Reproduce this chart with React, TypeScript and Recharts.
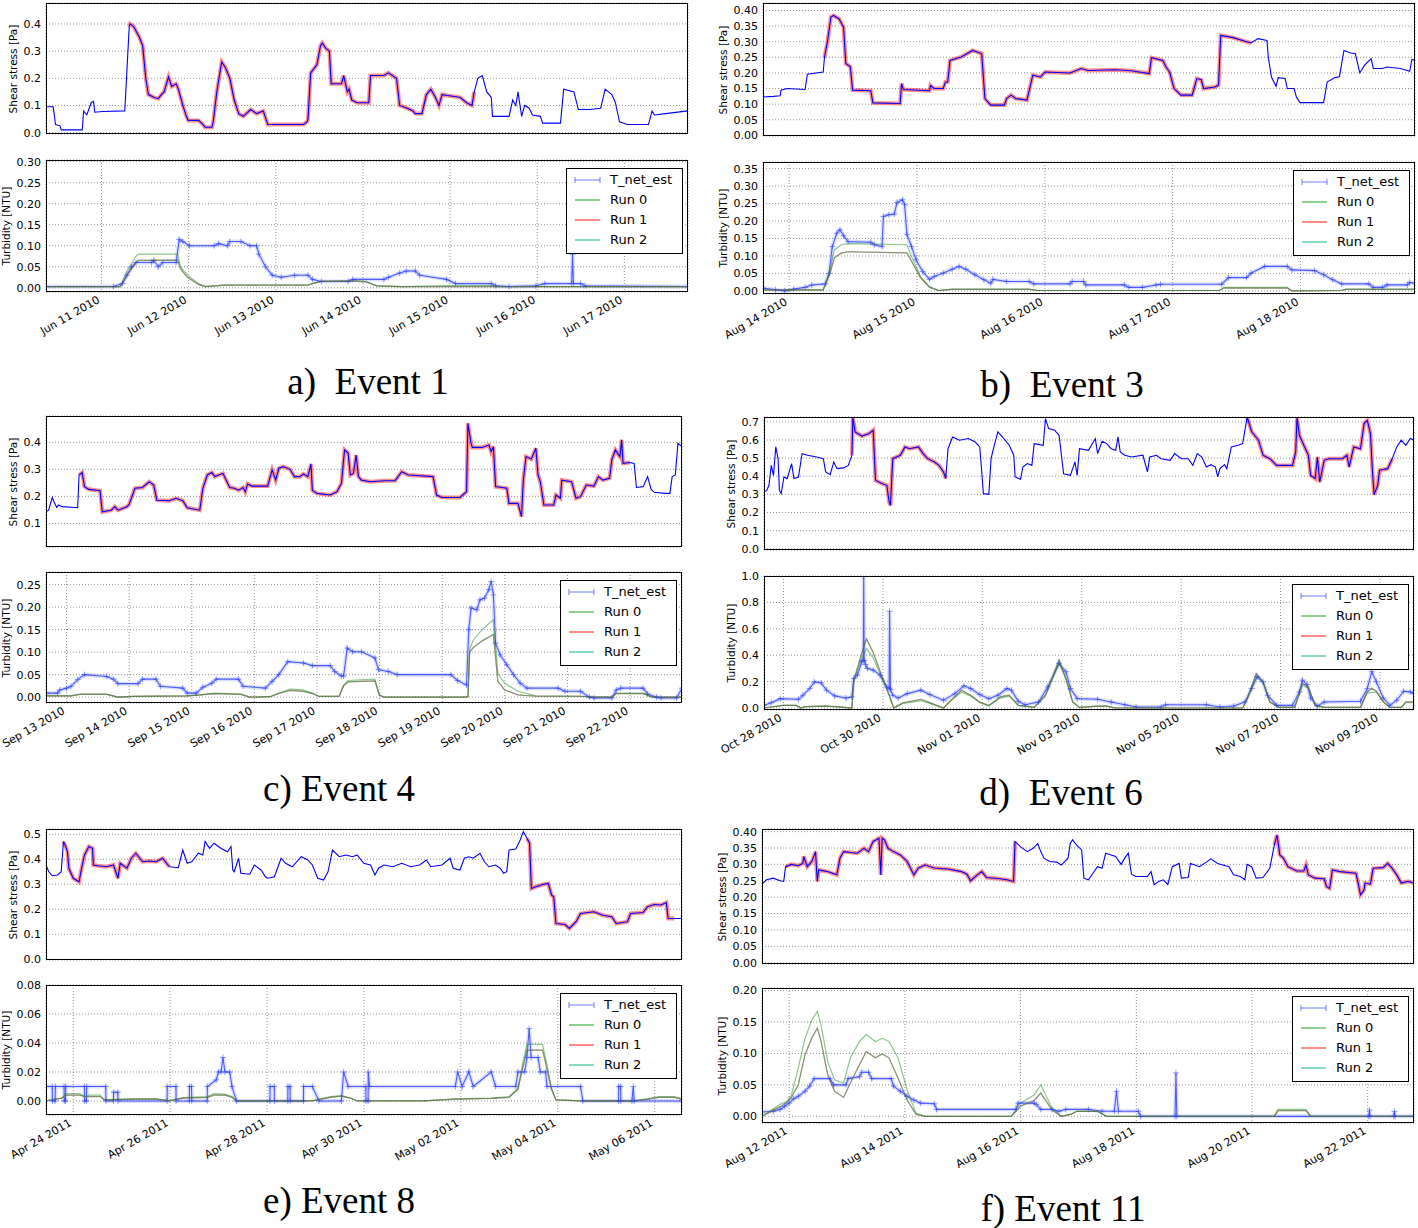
import React from "react";
import { LineChart, Line, XAxis, YAxis, CartesianGrid } from "recharts";

type Pt = [number, number];
type Span = [number, number];

// x values are days from the first labelled date of each event

// ---- Event 1 ----
const ticksA = [0, 1, 2, 3, 4, 5, 6];
const labelsA = ["Jun 11 2010", "Jun 12 2010", "Jun 13 2010", "Jun 14 2010", "Jun 15 2010", "Jun 16 2010", "Jun 17 2010"];
const shearA: Pt[] = [
  [-0.636, 0.095], [-0.554, 0.095], [-0.528, 0.03], [-0.477, 0.025], [-0.462, 0.01], [-0.221, 0.01], [-0.205, 0.08], [-0.169, 0.065],
  [-0.118, 0.11], [-0.092, 0.115], [-0.077, 0.075], [0.01, 0.078], [0.267, 0.08], [0.318, 0.39], [0.328, 0.4], [0.369, 0.39],
  [0.395, 0.375], [0.436, 0.35], [0.472, 0.32], [0.508, 0.2], [0.538, 0.14], [0.6, 0.13], [0.651, 0.125], [0.687, 0.14],
  [0.718, 0.15], [0.769, 0.205], [0.805, 0.17], [0.856, 0.18], [0.882, 0.16], [0.933, 0.1], [0.974, 0.06], [0.995, 0.045],
  [1.113, 0.045], [1.149, 0.035], [1.19, 0.02], [1.267, 0.02], [1.282, 0.04], [1.323, 0.15], [1.379, 0.26], [1.421, 0.24],
  [1.472, 0.2], [1.523, 0.12], [1.574, 0.07], [1.626, 0.06], [1.713, 0.085], [1.779, 0.07], [1.856, 0.08], [1.908, 0.03],
  [2.318, 0.03], [2.359, 0.04], [2.369, 0.05], [2.4, 0.22], [2.472, 0.25], [2.513, 0.32], [2.533, 0.33], [2.574, 0.31],
  [2.615, 0.3], [2.636, 0.18], [2.754, 0.18], [2.779, 0.21], [2.821, 0.15], [2.841, 0.16], [2.872, 0.12], [2.933, 0.11],
  [3.067, 0.11], [3.087, 0.21], [3.241, 0.21], [3.292, 0.22], [3.385, 0.2], [3.421, 0.1], [3.508, 0.09], [3.574, 0.08],
  [3.6, 0.07], [3.677, 0.07], [3.728, 0.14], [3.779, 0.16], [3.831, 0.13], [3.872, 0.1], [3.908, 0.14], [4.01, 0.135],
  [4.113, 0.13], [4.19, 0.11], [4.251, 0.1], [4.277, 0.15], [4.318, 0.2], [4.369, 0.21], [4.421, 0.15], [4.472, 0.13],
  [4.487, 0.06], [4.677, 0.06], [4.718, 0.12], [4.754, 0.1], [4.779, 0.15], [4.821, 0.06], [4.856, 0.1], [4.908, 0.09],
  [4.944, 0.065], [5.036, 0.06], [5.062, 0.035], [5.267, 0.035], [5.303, 0.16], [5.421, 0.15], [5.472, 0.085], [5.6, 0.085],
  [5.728, 0.09], [5.779, 0.16], [5.856, 0.14], [5.897, 0.11], [5.944, 0.04], [6.036, 0.03], [6.277, 0.03], [6.318, 0.08],
  [6.344, 0.065], [6.472, 0.07], [6.728, 0.08],
];
const runSpanA: Span[] = [[0.31, 4.28]];
const tNetA: Pt[] = [
  [-0.636, 0.003], [0.138, 0.003], [0.241, 0.01], [0.292, 0.03], [0.344, 0.05], [0.395, 0.06], [0.574, 0.06], [0.6, 0.065],
  [0.651, 0.05], [0.703, 0.06], [0.856, 0.06], [0.892, 0.115], [0.933, 0.11], [1.01, 0.1], [1.292, 0.1], [1.344, 0.105],
  [1.446, 0.1], [1.472, 0.11], [1.6, 0.11], [1.703, 0.1], [1.779, 0.1], [1.805, 0.08], [1.882, 0.05], [1.959, 0.03],
  [2.062, 0.025], [2.215, 0.03], [2.369, 0.03], [2.421, 0.02], [2.523, 0.015], [2.831, 0.015], [2.882, 0.02], [3.241, 0.02],
  [3.292, 0.025], [3.421, 0.035], [3.497, 0.04], [3.6, 0.04], [3.651, 0.03], [3.959, 0.02], [4.062, 0.01], [4.472, 0.01],
  [4.523, 0.005], [4.677, 0.003], [4.985, 0.005], [5.087, 0.01], [5.395, 0.01], [5.405, 0.08], [5.415, 0.01], [5.497, 0.01],
  [5.549, 0.005], [6.728, 0.003],
];
const run0A: Pt[] = [
  [-0.636, 0.003], [0.215, 0.003], [0.292, 0.04], [0.395, 0.075], [0.421, 0.08], [0.872, 0.08], [0.908, 0.05], [0.985, 0.03],
  [1.113, 0.01], [1.19, 0.003], [1.344, 0.005], [1.395, 0.007], [2.369, 0.007], [2.421, 0.01], [2.523, 0.015], [2.882, 0.018],
  [3.036, 0.015], [3.164, 0.005], [3.446, 0.003], [3.959, 0.005], [4.472, 0.005], [4.574, 0.003], [6.728, 0.003],
];
const run12A: Pt[] = [
  [-0.636, 0.003], [0.215, 0.003], [0.292, 0.03], [0.395, 0.06], [0.421, 0.065], [0.872, 0.066], [0.908, 0.045], [0.985, 0.025],
  [1.113, 0.008], [1.19, 0.003], [1.344, 0.005], [1.395, 0.006], [2.369, 0.006], [2.421, 0.01], [2.523, 0.016], [2.882, 0.016],
  [3.036, 0.014], [3.164, 0.004], [3.446, 0.003], [4.574, 0.003], [6.728, 0.003],
];

// ---- Event 3 ----
const ticksB = [0, 1, 2, 3, 4];
const labelsB = ["Aug 14 2010", "Aug 15 2010", "Aug 16 2010", "Aug 17 2010", "Aug 18 2010"];
const shearB: Pt[] = [
  [-0.205, 0.123], [-0.124, 0.125], [-0.071, 0.127], [-0.064, 0.145], [-0.018, 0.15], [0.124, 0.147], [0.142, 0.196], [0.266, 0.203],
  [0.276, 0.25], [0.301, 0.304], [0.326, 0.379], [0.347, 0.384], [0.39, 0.373], [0.425, 0.347], [0.443, 0.23], [0.478, 0.22],
  [0.496, 0.145], [0.638, 0.143], [0.655, 0.104], [0.868, 0.102], [0.879, 0.166], [0.893, 0.147], [1.098, 0.143], [1.105, 0.16],
  [1.134, 0.15], [1.205, 0.15], [1.222, 0.171], [1.24, 0.171], [1.258, 0.24], [1.346, 0.251], [1.435, 0.272], [1.506, 0.262],
  [1.531, 0.118], [1.577, 0.097], [1.683, 0.097], [1.701, 0.118], [1.736, 0.129], [1.771, 0.118], [1.86, 0.113], [1.878, 0.145],
  [1.906, 0.193], [1.966, 0.187], [2.002, 0.203], [2.197, 0.2], [2.285, 0.214], [2.338, 0.208], [2.551, 0.21], [2.675, 0.207],
  [2.817, 0.198], [2.834, 0.249], [2.923, 0.24], [2.948, 0.219], [2.976, 0.203], [3.011, 0.15], [3.065, 0.129], [3.153, 0.129],
  [3.189, 0.182], [3.224, 0.178], [3.242, 0.15], [3.33, 0.155], [3.359, 0.161], [3.376, 0.32], [3.472, 0.313], [3.561, 0.302],
  [3.614, 0.296], [3.667, 0.31], [3.738, 0.304], [3.748, 0.251], [3.773, 0.187], [3.809, 0.157], [3.826, 0.185], [3.88, 0.182],
  [3.897, 0.15], [3.95, 0.15], [3.968, 0.123], [3.996, 0.105], [4.181, 0.105], [4.209, 0.171], [4.269, 0.185], [4.305, 0.188],
  [4.34, 0.272], [4.393, 0.264], [4.429, 0.262], [4.464, 0.2], [4.5, 0.224], [4.553, 0.246], [4.57, 0.214], [4.641, 0.214],
  [4.677, 0.219], [4.783, 0.214], [4.854, 0.205], [4.872, 0.243], [4.896, 0.24],
];
const runSpanB: Span[] = [[0.27, 3.63]];
const tNetB: Pt[] = [
  [-0.205, 0.008], [-0.106, 0.003], [-0.035, 0.0], [0.035, 0.005], [0.124, 0.01], [0.177, 0.017], [0.283, 0.02], [0.312, 0.05],
  [0.337, 0.127], [0.372, 0.165], [0.397, 0.175], [0.425, 0.158], [0.461, 0.141], [0.638, 0.139], [0.666, 0.132], [0.726, 0.127],
  [0.737, 0.213], [0.779, 0.218], [0.822, 0.22], [0.843, 0.253], [0.886, 0.261], [0.903, 0.247], [0.921, 0.161], [0.957, 0.127],
  [0.992, 0.089], [1.045, 0.055], [1.098, 0.033], [1.134, 0.041], [1.205, 0.051], [1.275, 0.062], [1.329, 0.07], [1.382, 0.062],
  [1.453, 0.046], [1.523, 0.032], [1.577, 0.022], [1.594, 0.033], [1.701, 0.027], [1.878, 0.027], [1.913, 0.02], [2.197, 0.02],
  [2.214, 0.027], [2.303, 0.027], [2.321, 0.017], [2.622, 0.017], [2.657, 0.01], [2.764, 0.01], [2.87, 0.017], [2.905, 0.019],
  [3.384, 0.019], [3.437, 0.038], [3.578, 0.038], [3.614, 0.051], [3.72, 0.07], [3.897, 0.07], [3.933, 0.06], [4.11, 0.058],
  [4.181, 0.046], [4.252, 0.032], [4.322, 0.02], [4.535, 0.02], [4.57, 0.01], [4.641, 0.01], [4.677, 0.017], [4.836, 0.017],
  [4.854, 0.024], [4.896, 0.022],
];
const run0B: Pt[] = [
  [-0.205, 0.003], [0.266, 0.003], [0.319, 0.06], [0.354, 0.118], [0.407, 0.132], [0.461, 0.135], [0.921, 0.132], [0.957, 0.098],
  [1.027, 0.041], [1.098, 0.012], [1.169, 0.001], [1.275, 0.005], [1.878, 0.005], [1.949, 0.001], [3.366, 0.001], [3.401, 0.01],
  [3.897, 0.01], [3.933, 0.0], [4.322, 0.001], [4.358, 0.005], [4.896, 0.005],
];
const run12B: Pt[] = [
  [-0.205, 0.003], [0.266, 0.003], [0.319, 0.05], [0.354, 0.095], [0.407, 0.108], [0.461, 0.112], [0.921, 0.109], [0.957, 0.085],
  [1.027, 0.038], [1.098, 0.01], [1.169, 0.001], [1.275, 0.004], [1.878, 0.004], [1.949, 0.001], [3.366, 0.001], [3.401, 0.008],
  [3.897, 0.008], [3.933, 0.0], [4.322, 0.001], [4.358, 0.004], [4.896, 0.004],
];

// ---- Event 4 ----
const ticksC = [0, 1, 2, 3, 4, 5, 6, 7, 8, 9];
const labelsC = ["Sep 13 2010", "Sep 14 2010", "Sep 15 2010", "Sep 16 2010", "Sep 17 2010", "Sep 18 2010", "Sep 19 2010", "Sep 20 2010", "Sep 21 2010", "Sep 22 2010"];
const shearC: Pt[] = [
  [-0.328, 0.143], [-0.286, 0.149], [-0.228, 0.196], [-0.2, 0.18], [-0.157, 0.159], [-0.128, 0.168], [-0.071, 0.162], [0.178, 0.158],
  [0.2, 0.279], [0.25, 0.288], [0.286, 0.236], [0.357, 0.226], [0.535, 0.221], [0.571, 0.143], [0.714, 0.149], [0.771, 0.162],
  [0.821, 0.149], [0.964, 0.162], [0.999, 0.17], [1.092, 0.23], [1.213, 0.233], [1.32, 0.254], [1.392, 0.242], [1.442, 0.186],
  [1.642, 0.184], [1.749, 0.193], [1.856, 0.184], [1.927, 0.158], [2.127, 0.149], [2.177, 0.23], [2.248, 0.279], [2.32, 0.288],
  [2.37, 0.273], [2.427, 0.279], [2.498, 0.285], [2.605, 0.233], [2.677, 0.23], [2.748, 0.223], [2.819, 0.233], [2.855, 0.217],
  [2.891, 0.246], [2.962, 0.238], [3.212, 0.238], [3.283, 0.298], [3.34, 0.26], [3.39, 0.304], [3.462, 0.31], [3.569, 0.3],
  [3.64, 0.273], [3.726, 0.273], [3.783, 0.283], [3.854, 0.273], [3.904, 0.32], [3.926, 0.223], [3.997, 0.211], [4.211, 0.205],
  [4.318, 0.217], [4.39, 0.248], [4.44, 0.372], [4.497, 0.36], [4.532, 0.279], [4.582, 0.285], [4.625, 0.353], [4.661, 0.273],
  [4.711, 0.26], [4.854, 0.254], [5.068, 0.258], [5.246, 0.258], [5.353, 0.291], [5.46, 0.279], [5.853, 0.273], [5.91, 0.205],
  [5.996, 0.196], [6.281, 0.196], [6.388, 0.217], [6.41, 0.47], [6.46, 0.396], [6.481, 0.381], [6.638, 0.381], [6.745, 0.39],
  [6.781, 0.365], [6.817, 0.384], [6.852, 0.236], [7.031, 0.23], [7.066, 0.174], [7.209, 0.174], [7.266, 0.125], [7.295, 0.26],
  [7.338, 0.347], [7.423, 0.338], [7.495, 0.378], [7.53, 0.279], [7.566, 0.254], [7.623, 0.168], [7.78, 0.168], [7.816, 0.205],
  [7.887, 0.193], [7.909, 0.26], [8.066, 0.254], [8.137, 0.193], [8.208, 0.199], [8.301, 0.242], [8.423, 0.238], [8.494, 0.273],
  [8.565, 0.26], [8.672, 0.267], [8.708, 0.335], [8.765, 0.372], [8.837, 0.347], [8.865, 0.409], [8.887, 0.322], [8.994, 0.325],
  [9.065, 0.322], [9.101, 0.233], [9.208, 0.236], [9.28, 0.273], [9.336, 0.226], [9.386, 0.215], [9.565, 0.211], [9.636, 0.211],
  [9.672, 0.273], [9.722, 0.279], [9.764, 0.396], [9.829, 0.384],
];
const runSpanC: Span[] = [[0.19, 9.05]];
const tNetC: Pt[] = [
  [-0.328, 0.009], [-0.143, 0.009], [-0.107, 0.016], [0, 0.02], [0.071, 0.024], [0.178, 0.039], [0.286, 0.05], [0.642, 0.046],
  [0.749, 0.04], [0.821, 0.03], [1.142, 0.03], [1.213, 0.04], [1.428, 0.04], [1.499, 0.024], [1.856, 0.02], [1.927, 0.009],
  [2.07, 0.009], [2.177, 0.022], [2.32, 0.031], [2.391, 0.04], [2.748, 0.04], [2.819, 0.024], [3.176, 0.02], [3.283, 0.035],
  [3.39, 0.05], [3.533, 0.079], [3.783, 0.076], [3.926, 0.07], [4.211, 0.07], [4.283, 0.057], [4.39, 0.047], [4.425, 0.047],
  [4.483, 0.109], [4.568, 0.101], [4.711, 0.101], [4.925, 0.087], [4.982, 0.061], [5.139, 0.057], [5.282, 0.05], [6.138, 0.05],
  [6.245, 0.037], [6.388, 0.027], [6.424, 0.15], [6.46, 0.198], [6.552, 0.194], [6.602, 0.216], [6.674, 0.22], [6.745, 0.239],
  [6.781, 0.257], [6.817, 0.227], [6.852, 0.12], [6.924, 0.094], [7.031, 0.072], [7.138, 0.05], [7.245, 0.031], [7.352, 0.02],
  [7.852, 0.02], [7.959, 0.013], [8.208, 0.013], [8.351, 0.0], [8.423, -0.002], [8.708, -0.002], [8.779, 0.016], [8.851, 0.02],
  [9.208, 0.02], [9.279, 0.007], [9.422, 0.0], [9.493, -0.002], [9.743, -0.002], [9.829, 0.02],
];
const run0C: Pt[] = [
  [-0.328, 0.003], [0.071, 0.003], [0.214, 0.007], [0.642, 0.007], [0.821, 0.0], [1.071, 0.0015], [1.927, 0.003], [2.141, 0.005],
  [2.355, 0.009], [2.784, 0.007], [2.926, 0.0], [3.248, 0.001], [3.39, 0.009], [3.569, 0.018], [3.783, 0.016], [3.926, 0.009],
  [4.033, 0.0015], [4.354, 0.002], [4.425, 0.027], [4.497, 0.037], [4.925, 0.04], [4.996, 0.005], [5.068, 0.0], [6.353, 0.0],
  [6.41, 0.001], [6.438, 0.105], [6.495, 0.127], [6.638, 0.15], [6.817, 0.172], [6.888, 0.053], [6.995, 0.031], [7.209, 0.013],
  [7.495, 0.003], [8.208, 0.002], [8.423, 0.0], [8.708, 0.0], [8.779, 0.009], [9.208, 0.009], [9.351, 0.0], [9.829, 0.0],
];
const run12C: Pt[] = [
  [-0.328, 0.003], [0.071, 0.003], [0.214, 0.006], [0.642, 0.006], [0.821, 0.0], [1.071, 0.0015], [1.927, 0.003], [2.141, 0.005],
  [2.355, 0.008], [2.784, 0.006], [2.926, 0.0], [3.248, 0.001], [3.39, 0.008], [3.569, 0.015], [3.783, 0.013], [3.926, 0.008],
  [4.033, 0.0015], [4.354, 0.002], [4.425, 0.025], [4.497, 0.034], [4.925, 0.036], [4.996, 0.004], [5.068, 0.0], [6.353, 0.0],
  [6.41, 0.001], [6.438, 0.1], [6.495, 0.11], [6.638, 0.125], [6.817, 0.139], [6.888, 0.035], [6.995, 0.016], [7.209, 0.005],
  [7.495, 0.002], [8.208, 0.002], [8.423, 0.0], [8.708, 0.0], [8.779, 0.008], [9.208, 0.008], [9.351, 0.0], [9.829, 0.0],
];

// ---- Event 6 ----
const ticksD = [0, 2, 4, 6, 8, 10, 12];
const labelsD = ["Oct 28 2010", "Oct 30 2010", "Nov 01 2010", "Nov 03 2010", "Nov 05 2010", "Nov 07 2010", "Nov 09 2010"];
const shearD: Pt[] = [
  [-0.392, 0.313], [-0.337, 0.322], [-0.292, 0.35], [-0.246, 0.46], [-0.201, 0.405], [-0.155, 0.562], [-0.109, 0.497], [-0.082, 0.322],
  [-0.046, 0.304], [0.009, 0.396], [0.073, 0.387], [0.164, 0.47], [0.21, 0.387], [0.301, 0.396], [0.374, 0.525], [0.483, 0.516],
  [0.666, 0.506], [0.802, 0.497], [0.848, 0.424], [0.939, 0.409], [1.012, 0.479], [1.076, 0.442], [1.213, 0.446], [1.304, 0.46],
  [1.377, 0.516], [1.395, 0.727], [1.441, 0.645], [1.577, 0.622], [1.714, 0.635], [1.805, 0.654], [1.851, 0.378], [1.988, 0.359],
  [2.079, 0.35], [2.125, 0.258], [2.152, 0.239], [2.198, 0.497], [2.352, 0.516], [2.444, 0.562], [2.535, 0.552], [2.717, 0.562],
  [2.808, 0.525], [2.9, 0.497], [3.036, 0.479], [3.128, 0.46], [3.219, 0.424], [3.264, 0.387], [3.31, 0.552], [3.401, 0.617],
  [3.538, 0.599], [3.72, 0.608], [3.857, 0.589], [3.948, 0.562], [3.994, 0.405], [4.021, 0.304], [4.131, 0.3], [4.176, 0.497],
  [4.24, 0.571], [4.313, 0.645], [4.404, 0.617], [4.541, 0.571], [4.632, 0.516], [4.66, 0.396], [4.769, 0.383], [4.815, 0.451],
  [4.906, 0.47], [4.997, 0.46], [5.043, 0.58], [5.225, 0.571], [5.27, 0.718], [5.334, 0.663], [5.453, 0.654], [5.544, 0.626],
  [5.635, 0.414], [5.772, 0.405], [5.863, 0.479], [5.909, 0.405], [5.954, 0.552], [6.136, 0.543], [6.273, 0.608], [6.319, 0.525],
  [6.41, 0.593], [6.501, 0.58], [6.592, 0.552], [6.684, 0.543], [6.729, 0.617], [6.775, 0.534], [6.866, 0.516], [7.003, 0.506],
  [7.231, 0.516], [7.322, 0.424], [7.368, 0.506], [7.504, 0.516], [7.596, 0.497], [7.778, 0.488], [7.869, 0.525], [8.006, 0.497],
  [8.143, 0.497], [8.234, 0.46], [8.325, 0.525], [8.416, 0.506], [8.507, 0.451], [8.599, 0.464], [8.69, 0.451], [8.735, 0.396],
  [8.781, 0.442], [8.872, 0.464], [8.918, 0.442], [9.009, 0.562], [9.146, 0.571], [9.237, 0.58], [9.328, 0.727], [9.419, 0.645],
  [9.556, 0.599], [9.647, 0.516], [9.784, 0.497], [9.921, 0.46], [10.24, 0.46], [10.304, 0.534], [10.331, 0.727], [10.377, 0.626],
  [10.468, 0.571], [10.559, 0.516], [10.605, 0.405], [10.696, 0.387], [10.741, 0.506], [10.787, 0.368], [10.878, 0.488], [10.969, 0.497],
  [11.243, 0.497], [11.334, 0.516], [11.379, 0.451], [11.471, 0.562], [11.608, 0.552], [11.68, 0.691], [11.744, 0.709], [11.808, 0.635],
  [11.845, 0.442], [11.881, 0.298], [11.954, 0.35], [11.991, 0.433], [12.155, 0.442], [12.246, 0.497], [12.337, 0.562], [12.428, 0.599],
  [12.519, 0.571], [12.61, 0.608], [12.684, 0.599],
];
const runSpanD: Span[] = [[1.37, 3.27], [9.28, 12.25]];
const tNetD: Pt[] = [
  [-0.392, 0.02], [-0.246, 0.04], [-0.064, 0.071], [0.301, 0.066], [0.392, 0.097], [0.529, 0.148], [0.62, 0.198], [0.757, 0.191],
  [0.866, 0.135], [1.03, 0.092], [1.258, 0.076], [1.377, 0.084], [1.413, 0.224], [1.486, 0.249], [1.577, 0.351], [1.605, 0.36],
  [1.614, 1.0], [1.623, 0.36], [1.65, 0.33], [1.687, 0.3], [1.805, 0.288], [1.942, 0.249], [2.079, 0.16], [2.125, 0.148],
  [2.134, 0.733], [2.152, 0.14], [2.198, 0.097], [2.307, 0.076], [2.489, 0.109], [2.763, 0.135], [2.945, 0.102], [3.219, 0.059],
  [3.447, 0.109], [3.629, 0.168], [3.766, 0.148], [3.948, 0.102], [4.131, 0.071], [4.313, 0.097], [4.495, 0.148], [4.586, 0.135],
  [4.723, 0.051], [4.86, 0.025], [5.134, 0.046], [5.316, 0.16], [5.544, 0.338], [5.681, 0.275], [5.772, 0.148], [5.909, 0.071],
  [6.319, 0.066], [6.592, 0.046], [6.866, 0.025], [7.094, 0.008], [7.596, 0.008], [7.687, 0.025], [8.507, 0.025], [8.781, 0.008],
  [9.054, 0.015], [9.283, 0.046], [9.419, 0.148], [9.529, 0.237], [9.647, 0.198], [9.738, 0.097], [9.921, 0.02], [10.24, 0.02],
  [10.377, 0.122], [10.44, 0.211], [10.532, 0.178], [10.605, 0.076], [10.741, 0.015], [10.878, 0.046], [11.608, 0.051], [11.744, 0.148],
  [11.835, 0.275], [11.927, 0.198], [12.064, 0.076], [12.2, 0.02], [12.337, 0.059], [12.474, 0.127], [12.61, 0.122], [12.684, 0.109],
];
const run0D: Pt[] = [
  [-0.392, 0.0], [-0.018, 0.02], [0.255, 0.02], [0.347, 0.0], [0.438, 0.01], [0.848, 0.015], [1.122, 0.008], [1.377, 0.0],
  [1.413, 0.198], [1.577, 0.38], [1.669, 0.45], [1.805, 0.38], [1.942, 0.26], [2.125, 0.097], [2.216, 0.0], [2.398, 0.033],
  [2.763, 0.055], [2.945, 0.035], [3.219, 0.0], [3.401, 0.065], [3.583, 0.12], [3.766, 0.09], [3.948, 0.04], [4.131, 0.015],
  [4.358, 0.075], [4.541, 0.09], [4.723, 0.02], [5.043, 0.005], [5.27, 0.09], [5.544, 0.34], [5.681, 0.22], [5.818, 0.046],
  [5.954, 0.005], [6.319, 0.015], [6.501, 0.015], [6.684, 0.0], [9.237, 0.0], [9.328, 0.065], [9.51, 0.24], [9.647, 0.19],
  [9.784, 0.046], [9.966, 0.005], [10.285, 0.005], [10.377, 0.1], [10.44, 0.17], [10.559, 0.15], [10.696, 0.02], [10.878, 0.005],
  [11.608, 0.005], [11.744, 0.115], [11.927, 0.12], [12.064, 0.046], [12.2, 0.005], [12.428, 0.005], [12.519, 0.04], [12.684, 0.04],
];
const run12D: Pt[] = [
  [-0.392, 0.0], [-0.018, 0.02], [0.255, 0.02], [0.347, 0.0], [0.438, 0.01], [0.848, 0.015], [1.122, 0.008], [1.377, 0.0],
  [1.413, 0.21], [1.577, 0.42], [1.669, 0.524], [1.805, 0.42], [1.942, 0.28], [2.125, 0.1], [2.216, 0.0], [2.398, 0.04],
  [2.763, 0.066], [2.945, 0.041], [3.219, 0.0], [3.401, 0.071], [3.583, 0.135], [3.766, 0.097], [3.948, 0.046], [4.131, 0.02],
  [4.358, 0.084], [4.541, 0.097], [4.723, 0.02], [5.043, 0.005], [5.27, 0.097], [5.544, 0.364], [5.681, 0.224], [5.818, 0.046],
  [5.954, 0.005], [6.319, 0.015], [6.501, 0.015], [6.684, 0.0], [9.237, 0.0], [9.328, 0.071], [9.51, 0.262], [9.647, 0.198],
  [9.784, 0.046], [9.966, 0.005], [10.285, 0.005], [10.377, 0.12], [10.44, 0.186], [10.559, 0.16], [10.696, 0.02], [10.878, 0.005],
  [11.608, 0.005], [11.744, 0.122], [11.835, 0.15], [11.927, 0.127], [12.064, 0.046], [12.2, 0.005], [12.428, 0.005], [12.519, 0.046], [12.684, 0.046],
];

// ---- Event 8 ----
const ticksE = [0, 2, 4, 6, 8, 10, 12];
const labelsE = ["Apr 24 2011", "Apr 26 2011", "Apr 28 2011", "Apr 30 2011", "May 02 2011", "May 04 2011", "May 06 2011"];
const shearE: Pt[] = [
  [-0.563, 0.377], [-0.507, 0.35], [-0.434, 0.334], [-0.323, 0.337], [-0.249, 0.35], [-0.203, 0.471], [-0.157, 0.451], [-0.12, 0.43],
  [-0.092, 0.364], [0, 0.324], [0.12, 0.31], [0.157, 0.35], [0.231, 0.417], [0.323, 0.451], [0.397, 0.444], [0.415, 0.377],
  [0.507, 0.374], [0.692, 0.37], [0.83, 0.377], [0.923, 0.324], [0.969, 0.384], [1.107, 0.364], [1.199, 0.404], [1.292, 0.424],
  [1.43, 0.39], [1.568, 0.393], [1.707, 0.39], [1.845, 0.404], [1.983, 0.37], [2.168, 0.366], [2.26, 0.437], [2.352, 0.384],
  [2.445, 0.39], [2.583, 0.424], [2.675, 0.417], [2.721, 0.471], [2.814, 0.444], [2.906, 0.464], [3.044, 0.444], [3.183, 0.43],
  [3.256, 0.451], [3.293, 0.357], [3.321, 0.35], [3.413, 0.404], [3.459, 0.344], [3.644, 0.34], [3.736, 0.377], [3.875, 0.357],
  [3.967, 0.33], [4.013, 0.324], [4.151, 0.33], [4.29, 0.404], [4.382, 0.384], [4.52, 0.37], [4.705, 0.41], [4.843, 0.397],
  [4.935, 0.377], [5.046, 0.324], [5.166, 0.317], [5.258, 0.35], [5.351, 0.437], [5.489, 0.41], [5.627, 0.417], [5.766, 0.41],
  [5.858, 0.417], [5.996, 0.384], [6.135, 0.377], [6.227, 0.337], [6.301, 0.364], [6.412, 0.377], [6.596, 0.37], [6.78, 0.384],
  [6.965, 0.37], [7.149, 0.377], [7.288, 0.397], [7.38, 0.37], [7.611, 0.377], [7.777, 0.404], [7.841, 0.364], [7.98, 0.357],
  [8.072, 0.404], [8.164, 0.41], [8.256, 0.404], [8.395, 0.424], [8.487, 0.39], [8.579, 0.37], [8.718, 0.377], [8.81, 0.364],
  [8.884, 0.344], [8.948, 0.35], [8.995, 0.437], [9.133, 0.441], [9.225, 0.477], [9.29, 0.511], [9.364, 0.484], [9.419, 0.464],
  [9.456, 0.283], [9.548, 0.29], [9.686, 0.299], [9.806, 0.303], [9.871, 0.257], [9.917, 0.25], [9.963, 0.143], [10.148, 0.139],
  [10.24, 0.123], [10.378, 0.15], [10.47, 0.183], [10.747, 0.19], [10.932, 0.176], [11.116, 0.17], [11.208, 0.143], [11.439, 0.15],
  [11.504, 0.183], [11.762, 0.187], [11.854, 0.21], [11.993, 0.219], [12.131, 0.217], [12.242, 0.227], [12.279, 0.163], [12.408, 0.163],
  [12.565, 0.163],
];
const runSpanE: Span[] = [[-0.24, 1.99], [9.3, 12.41]];
const tNetE: Pt[] = [
  [-0.563, 0.01], [-0.434, 0.01], [-0.43, 0], [-0.375, 0], [-0.37, 0.01], [-0.19, 0.01], [-0.185, 0], [-0.16, 0],
  [-0.157, 0.01], [0.231, 0.01], [0.235, 0], [0.27, 0], [0.277, 0.01], [0.67, 0.01], [0.673, 0], [0.83, 0],
  [0.833, 0.006], [0.92, 0.006], [0.923, 0], [1.937, 0], [1.94, 0.01], [2.12, 0.01], [2.122, 0], [2.396, 0],
  [2.399, 0.01], [2.44, 0.01], [2.445, 0], [2.765, 0], [2.768, 0.01], [2.95, 0.0145], [2.998, 0.02], [3.05, 0.02],
  [3.09, 0.03], [3.13, 0.02], [3.229, 0.02], [3.275, 0.01], [3.367, 0], [4.059, 0], [4.062, 0.01], [4.148, 0.01],
  [4.151, 0], [4.428, 0], [4.431, 0.01], [4.474, 0.01], [4.477, 0], [4.751, 0], [4.754, 0.01], [4.935, 0.01],
  [5.07, 0], [5.535, 0], [5.581, 0.02], [5.673, 0.01], [6.04, 0.01], [6.042, 0], [6.086, 0], [6.089, 0.02],
  [6.116, 0.01], [7.887, 0.01], [7.934, 0.02], [8.026, 0.01], [8.164, 0.02], [8.256, 0.01], [8.626, 0.02], [8.718, 0.01],
  [9.133, 0.01], [9.179, 0.02], [9.317, 0.02], [9.364, 0.03], [9.41, 0.05], [9.45, 0.03], [9.594, 0.03], [9.64, 0.02],
  [9.751, 0.02], [9.779, 0.01], [10.471, 0.01], [10.517, 0], [11.255, 0], [11.258, 0.01], [11.298, 0.01], [11.301, 0],
  [11.531, 0], [11.559, 0.01], [11.578, 0], [12.565, 0],
];
const run0E: Pt[] = [
  [-0.563, 0.0], [-0.231, 0.002], [-0.157, 0.005], [0.138, 0.005], [0.231, 0.003], [0.323, 0.004], [0.554, 0.004], [0.646, 0.0007],
  [1.245, 0.0014], [1.707, 0.0014], [1.983, 0.0], [2.26, 0.0023], [2.768, 0.003], [2.906, 0.005], [3.137, 0.0045], [3.275, 0.003],
  [3.367, 0.0], [4.935, 0.0], [5.304, 0.003], [5.535, 0.0037], [5.72, 0.002], [5.858, 0.0], [7.242, 0.0], [7.887, 0.0014],
  [8.626, 0.002], [8.995, 0.003], [9.179, 0.0087], [9.271, 0.025], [9.364, 0.039], [9.686, 0.039], [9.779, 0.025], [9.871, 0.0087],
  [9.963, 0.0007], [10.471, 0.0], [11.578, 0.0], [11.854, 0.0014], [12.085, 0.003], [12.408, 0.003], [12.565, 0.0014],
];
const run12E: Pt[] = [
  [-0.563, 0.0], [-0.231, 0.002], [-0.157, 0.004], [0.138, 0.004], [0.231, 0.003], [0.323, 0.003], [0.554, 0.003], [0.646, 0.0007],
  [1.245, 0.0012], [1.707, 0.0012], [1.983, 0.0], [2.26, 0.002], [2.768, 0.0025], [2.906, 0.004], [3.137, 0.004], [3.275, 0.0025],
  [3.367, 0.0], [4.935, 0.0], [5.304, 0.0025], [5.535, 0.0033], [5.72, 0.002], [5.858, 0.0], [7.242, 0.0], [7.887, 0.0012],
  [8.626, 0.0018], [8.995, 0.0025], [9.179, 0.008], [9.271, 0.022], [9.364, 0.035], [9.686, 0.035], [9.779, 0.022], [9.871, 0.008],
  [9.963, 0.0007], [10.471, 0.0], [11.578, 0.0], [11.854, 0.0012], [12.085, 0.0025], [12.408, 0.0025], [12.565, 0.0012],
];

// ---- Event 11 ----
const ticksF = [0, 2, 4, 6, 8, 10];
const labelsF = ["Aug 12 2011", "Aug 14 2011", "Aug 16 2011", "Aug 18 2011", "Aug 20 2011", "Aug 22 2011"];
const shearF: Pt[] = [
  [-0.47, 0.24], [-0.392, 0.253], [-0.274, 0.258], [-0.157, 0.25], [-0.094, 0.248], [-0.063, 0.293], [0.039, 0.3], [0.157, 0.296],
  [0.235, 0.303], [0.251, 0.324], [0.313, 0.293], [0.392, 0.309], [0.455, 0.339], [0.486, 0.248], [0.509, 0.283], [0.666, 0.278],
  [0.823, 0.268], [0.878, 0.319], [0.94, 0.339], [1.176, 0.334], [1.293, 0.349], [1.371, 0.339], [1.45, 0.37], [1.505, 0.375],
  [1.552, 0.38], [1.583, 0.268], [1.607, 0.38], [1.646, 0.375], [1.708, 0.349], [1.803, 0.339], [1.92, 0.329], [2.038, 0.309],
  [2.155, 0.268], [2.234, 0.289], [2.351, 0.298], [2.508, 0.289], [2.743, 0.286], [2.978, 0.278], [3.072, 0.27], [3.135, 0.25],
  [3.252, 0.268], [3.331, 0.278], [3.409, 0.26], [3.644, 0.256], [3.762, 0.253], [3.879, 0.248], [3.903, 0.37], [3.997, 0.354],
  [4.114, 0.339], [4.216, 0.349], [4.295, 0.364], [4.349, 0.339], [4.404, 0.319], [4.506, 0.309], [4.624, 0.307], [4.702, 0.298],
  [4.82, 0.319], [4.859, 0.364], [4.898, 0.375], [4.976, 0.357], [5.055, 0.344], [5.094, 0.258], [5.172, 0.253], [5.251, 0.273],
  [5.329, 0.293], [5.408, 0.288], [5.47, 0.334], [5.643, 0.324], [5.737, 0.3], [5.799, 0.319], [5.862, 0.334], [5.917, 0.27],
  [5.995, 0.263], [6.191, 0.263], [6.254, 0.278], [6.309, 0.238], [6.387, 0.248], [6.466, 0.253], [6.544, 0.238], [6.622, 0.293],
  [6.74, 0.303], [6.779, 0.258], [6.897, 0.26], [6.936, 0.303], [7.092, 0.293], [7.21, 0.307], [7.288, 0.317], [7.406, 0.303],
  [7.602, 0.293], [7.68, 0.268], [7.798, 0.263], [7.876, 0.253], [7.915, 0.3], [7.994, 0.293], [8.072, 0.258], [8.19, 0.26],
  [8.307, 0.288], [8.386, 0.359], [8.433, 0.39], [8.48, 0.329], [8.542, 0.319], [8.621, 0.293], [8.777, 0.28], [8.895, 0.28],
  [8.934, 0.298], [8.973, 0.268], [9.091, 0.258], [9.248, 0.256], [9.287, 0.232], [9.342, 0.227], [9.389, 0.283], [9.522, 0.278],
  [9.796, 0.273], [9.835, 0.243], [9.875, 0.207], [9.937, 0.222], [9.953, 0.243], [10.047, 0.24], [10.094, 0.288], [10.266, 0.29],
  [10.345, 0.303], [10.423, 0.288], [10.502, 0.268], [10.58, 0.243], [10.698, 0.248], [10.799, 0.243],
];
const runSpanF: Span[] = [[-0.07, 3.92], [8.34, 10.8]];
const tNetF: Pt[] = [
  [-0.47, 0.007], [-0.274, 0.008], [-0.157, 0.011], [-0.078, 0.016], [0, 0.021], [0.078, 0.028], [0.157, 0.032], [0.274, 0.04],
  [0.353, 0.048], [0.431, 0.06], [0.705, 0.06], [0.768, 0.05], [0.98, 0.05], [1.019, 0.06], [1.215, 0.063], [1.254, 0.07],
  [1.371, 0.07], [1.426, 0.06], [1.763, 0.06], [1.803, 0.048], [1.92, 0.04], [2.038, 0.032], [2.155, 0.026], [2.273, 0.021],
  [2.508, 0.02], [2.547, 0.011], [3.918, 0.011], [3.958, 0.021], [4.232, 0.021], [4.271, 0.019], [4.349, 0.011], [4.545, 0.011],
  [4.663, 0.008], [4.781, 0.011], [5.172, 0.011], [5.408, 0.008], [5.62, 0.008], [5.658, 0.04], [5.69, 0.008], [6.034, 0.008],
  [6.074, 0.0], [6.67, 0.0], [6.685, 0.069], [6.7, 0.0], [10.02, 0.0], [10.031, 0.01], [10.04, 0.0], [10.45, 0.0],
  [10.462, 0.008], [10.47, 0.0], [10.799, 0.0],
];
const run0F: Pt[] = [
  [-0.47, 0.0], [-0.157, 0.019], [-0.039, 0.024], [0.039, 0.034], [0.157, 0.077], [0.274, 0.124], [0.392, 0.153], [0.486, 0.167],
  [0.549, 0.146], [0.666, 0.087], [0.784, 0.058], [0.94, 0.053], [1.058, 0.093], [1.215, 0.119], [1.332, 0.13], [1.489, 0.119],
  [1.607, 0.124], [1.724, 0.119], [1.881, 0.093], [2.038, 0.042], [2.194, 0.005], [2.351, 0.0], [3.84, 0.0], [3.997, 0.021],
  [4.232, 0.034], [4.349, 0.05], [4.545, 0.013], [4.702, 0.0], [4.859, 0.003], [4.976, 0.008], [5.329, 0.008], [5.486, 0.0],
  [8.386, 0.0], [8.448, 0.011], [8.934, 0.011], [9.013, 0.0], [10.799, 0.0],
];
const run12F: Pt[] = [
  [-0.47, 0.0], [-0.157, 0.015], [-0.039, 0.022], [0.039, 0.03], [0.157, 0.05], [0.274, 0.098], [0.392, 0.125], [0.486, 0.14],
  [0.549, 0.12], [0.666, 0.066], [0.784, 0.04], [0.94, 0.03], [1.098, 0.061], [1.332, 0.103], [1.489, 0.093], [1.607, 0.099],
  [1.724, 0.093], [1.881, 0.061], [2.038, 0.026], [2.194, 0.003], [2.351, 0.0], [3.84, 0.0], [3.997, 0.016], [4.232, 0.025],
  [4.349, 0.037], [4.545, 0.01], [4.702, 0.0], [4.859, 0.003], [4.976, 0.008], [5.329, 0.008], [5.486, 0.0], [8.386, 0.0],
  [8.448, 0.009], [8.934, 0.009], [9.013, 0.0], [10.799, 0.0],
];

const FONT = "'DejaVu Sans', Verdana, sans-serif";
const YW = 46;

const rows = (pts: Pt[]) => pts.map(([t, v]) => ({ t, v }));
const within = (pts: Pt[], [a, b]: Span) => rows(pts.filter(([t]) => t >= a && t <= b));

function PlusDot(props: any) {
  const { cx, cy } = props;
  if (cx == null || cy == null) return null;
  return (
    <path d={`M${cx - 3},${cy}h6M${cx},${cy - 3}v6`} stroke="#2a3cff" strokeOpacity={0.5} strokeWidth={1} fill="none" />
  );
}

function DateTick(props: any) {
  const { x, y, payload, labels, ticks } = props;
  const label = labels[ticks.indexOf(payload.value)];
  const ax = x - 1;
  const ay = y + 10;
  return (
    <text x={ax} y={ay} transform={`rotate(-30 ${ax} ${ay})`} textAnchor="end"
      fontSize={11} fontFamily={FONT} fill="#000">{label}</text>
  );
}

function Legend() {
  const items = [
    { name: "T_net_est", color: "#3344ff", plus: true },
    { name: "Run 0", color: "#8fcf8f" },
    { name: "Run 1", color: "#ff8a8a" },
    { name: "Run 2", color: "#85dcc0" },
  ];
  return (
    <div style={{ position: "absolute", right: 5, top: 8, width: 117, height: 86, border: "1px solid #000",
      background: "#fff", boxSizing: "border-box", fontFamily: FONT, fontSize: 13 }}>
      {items.map((it, i) => (
        <div key={it.name} style={{ position: "absolute", left: 0, top: 1 + i * 20, height: 20, width: 115 }}>
          <svg width={30} height={20} style={{ position: "absolute", left: 6, top: 0 }}>
            <line x1={2} y1={10} x2={27} y2={10} stroke={it.color} strokeWidth={it.plus ? 1 : 2} strokeOpacity={it.plus ? 0.7 : 1} />
            {it.plus && <path d="M2,7v6M27,7v6" stroke={it.color} strokeOpacity={0.7} />}
          </svg>
          <span style={{ position: "absolute", left: 43, top: 2, lineHeight: "16px", whiteSpace: "nowrap" }}>{it.name}</span>
        </div>
      ))}
    </div>
  );
}

function Plot(props: {
  left: number; right: number; top: number; bottom: number;
  xDomain: [number, number]; xTicks: number[]; xLabels?: string[];
  yDomain: [number, number]; yTicks: number[]; digits: number; yLabel: string;
  lines: React.ReactNode[]; legend?: boolean;
}) {
  const { left, right, top, bottom, xDomain, xTicks, xLabels, yDomain, yTicks, digits, yLabel, lines, legend } = props;
  const w = right - left;
  const h = bottom - top;
  const xh = xLabels ? 70 : 1;
  const labelOff = digits === 1 ? 33 : 40;
  return (
    <div style={{ position: "absolute", left: left - YW, top, width: w + YW, height: h + xh }}>
      <LineChart width={w + YW} height={h + xh} margin={{ top: 0, right: 0, bottom: 0, left: 0 }}>
        <CartesianGrid stroke="#777" strokeDasharray="1 2" strokeWidth={0.8} />
        <XAxis type="number" dataKey="t" domain={xDomain} ticks={xTicks} allowDataOverflow interval={0}
          height={xh} axisLine={false} tickLine={false} tickSize={0} tickMargin={0}
          tick={xLabels ? (p: any) => <DateTick {...p} labels={xLabels} ticks={xTicks} /> : false} />
        <YAxis type="number" dataKey="v" domain={yDomain} ticks={yTicks} allowDataOverflow interval={0}
          width={YW} axisLine={false} tickLine={false} tickSize={0} tickMargin={5}
          tickFormatter={(v: number) => v.toFixed(digits)}
          tick={{ fontSize: 11, fill: "#000", fontFamily: FONT }} />
        {lines}
      </LineChart>
      <div style={{ position: "absolute", left: YW, top: 0, width: w, height: h, border: "1px solid #000",
        boxSizing: "border-box", pointerEvents: "none" }} />
      <div style={{ position: "absolute", left: YW - labelOff, top: h / 2, transform: "translate(-50%,-50%) rotate(-90deg)",
        whiteSpace: "nowrap", fontSize: 10.5, fontFamily: FONT, color: "#000" }}>{yLabel}</div>
      {legend && <div style={{ position: "absolute", left: YW, top: 0, width: w, height: h }}><Legend /></div>}
    </div>
  );
}

interface PanelCfg {
  left: number; right: number; shearBox: [number, number]; turbBox: [number, number];
  xDomain: [number, number]; xTicks: number[]; xLabels: string[];
  shearDomain: [number, number]; shearTicks: number[]; shearDigits: number;
  turbDomain: [number, number]; turbTicks: number[]; turbDigits: number;
  shear: Pt[]; spans: Span[]; tNet: Pt[]; run0: Pt[]; run1: Pt[]; run2: Pt[];
  caption: string; capX: number; capY: number;
}

const panels: PanelCfg[] = [
  { left: 46, right: 688, shearBox: [3, 134], turbBox: [160, 292], xDomain: [-0.637, 6.73], xTicks: ticksA, xLabels: labelsA,
    shearDomain: [-0.005, 0.477], shearTicks: [0, 0.1, 0.2, 0.3, 0.4], shearDigits: 1,
    turbDomain: [-0.01, 0.304], turbTicks: [0, 0.05, 0.1, 0.15, 0.2, 0.25, 0.3], turbDigits: 2,
    shear: shearA, spans: runSpanA, tNet: tNetA, run0: run0A, run1: run12A, run2: run12A, caption: "a)  Event 1", capX: 368, capY: 394 },
  { left: 763, right: 1415, shearBox: [3, 136], turbBox: [162, 294], xDomain: [-0.205, 4.896], xTicks: ticksB, xLabels: labelsB,
    shearDomain: [-0.002, 0.424], shearTicks: [0, 0.05, 0.1, 0.15, 0.2, 0.25, 0.3, 0.35, 0.4], shearDigits: 2,
    turbDomain: [-0.009, 0.369], turbTicks: [0, 0.05, 0.1, 0.15, 0.2, 0.25, 0.3, 0.35], turbDigits: 2,
    shear: shearB, spans: runSpanB, tNet: tNetB, run0: run0B, run1: run12B, run2: run12B, caption: "b)  Event 3", capX: 1062, capY: 397 },
  { left: 46, right: 682, shearBox: [416, 547], turbBox: [572, 703], xDomain: [-0.328, 9.829], xTicks: ticksC, xLabels: labelsC,
    shearDomain: [0.013, 0.497], shearTicks: [0.1, 0.2, 0.3, 0.4], shearDigits: 1,
    turbDomain: [-0.013, 0.278], turbTicks: [0, 0.05, 0.1, 0.15, 0.2, 0.25], turbDigits: 2,
    shear: shearC, spans: runSpanC, tNet: tNetC, run0: run0C, run1: run12C, run2: run12C, caption: "c) Event 4", capX: 339, capY: 801 },
  { left: 764, right: 1414, shearBox: [417, 550], turbBox: [576, 710], xDomain: [-0.392, 12.684], xTicks: ticksD, xLabels: labelsD,
    shearDomain: [-0.007, 0.727], shearTicks: [0, 0.1, 0.2, 0.3, 0.4, 0.5, 0.6, 0.7], shearDigits: 1,
    turbDomain: [-0.015, 1.0], turbTicks: [0, 0.2, 0.4, 0.6, 0.8, 1.0], turbDigits: 1,
    shear: shearD, spans: runSpanD, tNet: tNetD, run0: run0D, run1: run12D, run2: run12D, caption: "d)  Event 6", capX: 1061, capY: 805 },
  { left: 46, right: 682, shearBox: [829, 960], turbBox: [985, 1115], xDomain: [-0.563, 12.565], xTicks: ticksE, xLabels: labelsE,
    shearDomain: [-0.003, 0.521], shearTicks: [0, 0.1, 0.2, 0.3, 0.4, 0.5], shearDigits: 1,
    turbDomain: [-0.0097, 0.08], turbTicks: [0, 0.02, 0.04, 0.06, 0.08], turbDigits: 2,
    shear: shearE, spans: runSpanE, tNet: tNetE, run0: run0E, run1: run12E, run2: run12E, caption: "e) Event 8", capX: 339, capY: 1213 },
  { left: 762, right: 1414, shearBox: [829, 964], turbBox: [988, 1123], xDomain: [-0.47, 10.8], xTicks: ticksF, xLabels: labelsF,
    shearDomain: [-0.004, 0.408], shearTicks: [0, 0.05, 0.1, 0.15, 0.2, 0.25, 0.3, 0.35, 0.4], shearDigits: 2,
    turbDomain: [-0.0106, 0.204], turbTicks: [0, 0.05, 0.1, 0.15, 0.2], turbDigits: 2,
    shear: shearF, spans: runSpanF, tNet: tNetF, run0: run0F, run1: run12F, run2: run12F, caption: "f) Event 11", capX: 1063, capY: 1221 },
];

function Panel({ p }: { p: PanelCfg }) {
  const shearLines = [
    ...p.spans.map((s, i) => (
      <Line key={`run${i}`} data={within(p.shear, s)} dataKey="v" type="linear" stroke="#ff1a1a" strokeOpacity={0.5}
        strokeWidth={4} dot={false} activeDot={false} isAnimationActive={false} />
    )),
    <Line key="shear" data={rows(p.shear)} dataKey="v" type="linear" stroke="#0000ff" strokeWidth={1.1}
      dot={false} activeDot={false} isAnimationActive={false} />,
  ];
  const turbLines = [
    <Line key="band" data={rows(p.tNet)} dataKey="v" type="linear" stroke="#4a5cff" strokeOpacity={0.2} strokeWidth={4}
      dot={false} activeDot={false} isAnimationActive={false} />,
    <Line key="tnet" data={rows(p.tNet)} dataKey="v" type="linear" stroke="#2233ff" strokeOpacity={0.75} strokeWidth={1.1}
      dot={(d: any) => <PlusDot key={`pd${d.index}`} cx={d.cx} cy={d.cy} />} activeDot={false} isAnimationActive={false} />,
    <Line key="r0" data={rows(p.run0)} dataKey="v" type="linear" stroke="#1a8f1a" strokeOpacity={0.5} strokeWidth={1.2}
      dot={false} activeDot={false} isAnimationActive={false} />,
    <Line key="r1" data={rows(p.run1)} dataKey="v" type="linear" stroke="#ff0000" strokeOpacity={0.45} strokeWidth={1.2}
      dot={false} activeDot={false} isAnimationActive={false} />,
    <Line key="r2" data={rows(p.run2)} dataKey="v" type="linear" stroke="#00a060" strokeOpacity={0.5} strokeWidth={1.2}
      dot={false} activeDot={false} isAnimationActive={false} />,
  ];
  return (
    <>
      <Plot left={p.left} right={p.right} top={p.shearBox[0]} bottom={p.shearBox[1]} xDomain={p.xDomain} xTicks={p.xTicks}
        yDomain={p.shearDomain} yTicks={p.shearTicks} digits={p.shearDigits} yLabel="Shear stress [Pa]" lines={shearLines} />
      <Plot left={p.left} right={p.right} top={p.turbBox[0]} bottom={p.turbBox[1]} xDomain={p.xDomain} xTicks={p.xTicks}
        xLabels={p.xLabels} yDomain={p.turbDomain} yTicks={p.turbTicks} digits={p.turbDigits} yLabel="Turbidity [NTU]"
        lines={turbLines} legend />
      <div style={{ position: "absolute", left: p.capX, top: p.capY - 31, transform: "translateX(-50%)", whiteSpace: "pre",
        fontFamily: "'Liberation Serif', 'Times New Roman', serif", fontSize: 37, lineHeight: "37px", color: "#000" }}>
        {p.caption}
      </div>
    </>
  );
}

export default function App() {
  return (
    <div style={{ position: "absolute", left: 0, top: 0, width: 1418, height: 1228, background: "#fff", overflow: "hidden" }}>
      <style>{`.recharts-surface{overflow:visible}`}</style>
      {panels.map((p) => <Panel key={p.caption} p={p} />)}
    </div>
  );
}
